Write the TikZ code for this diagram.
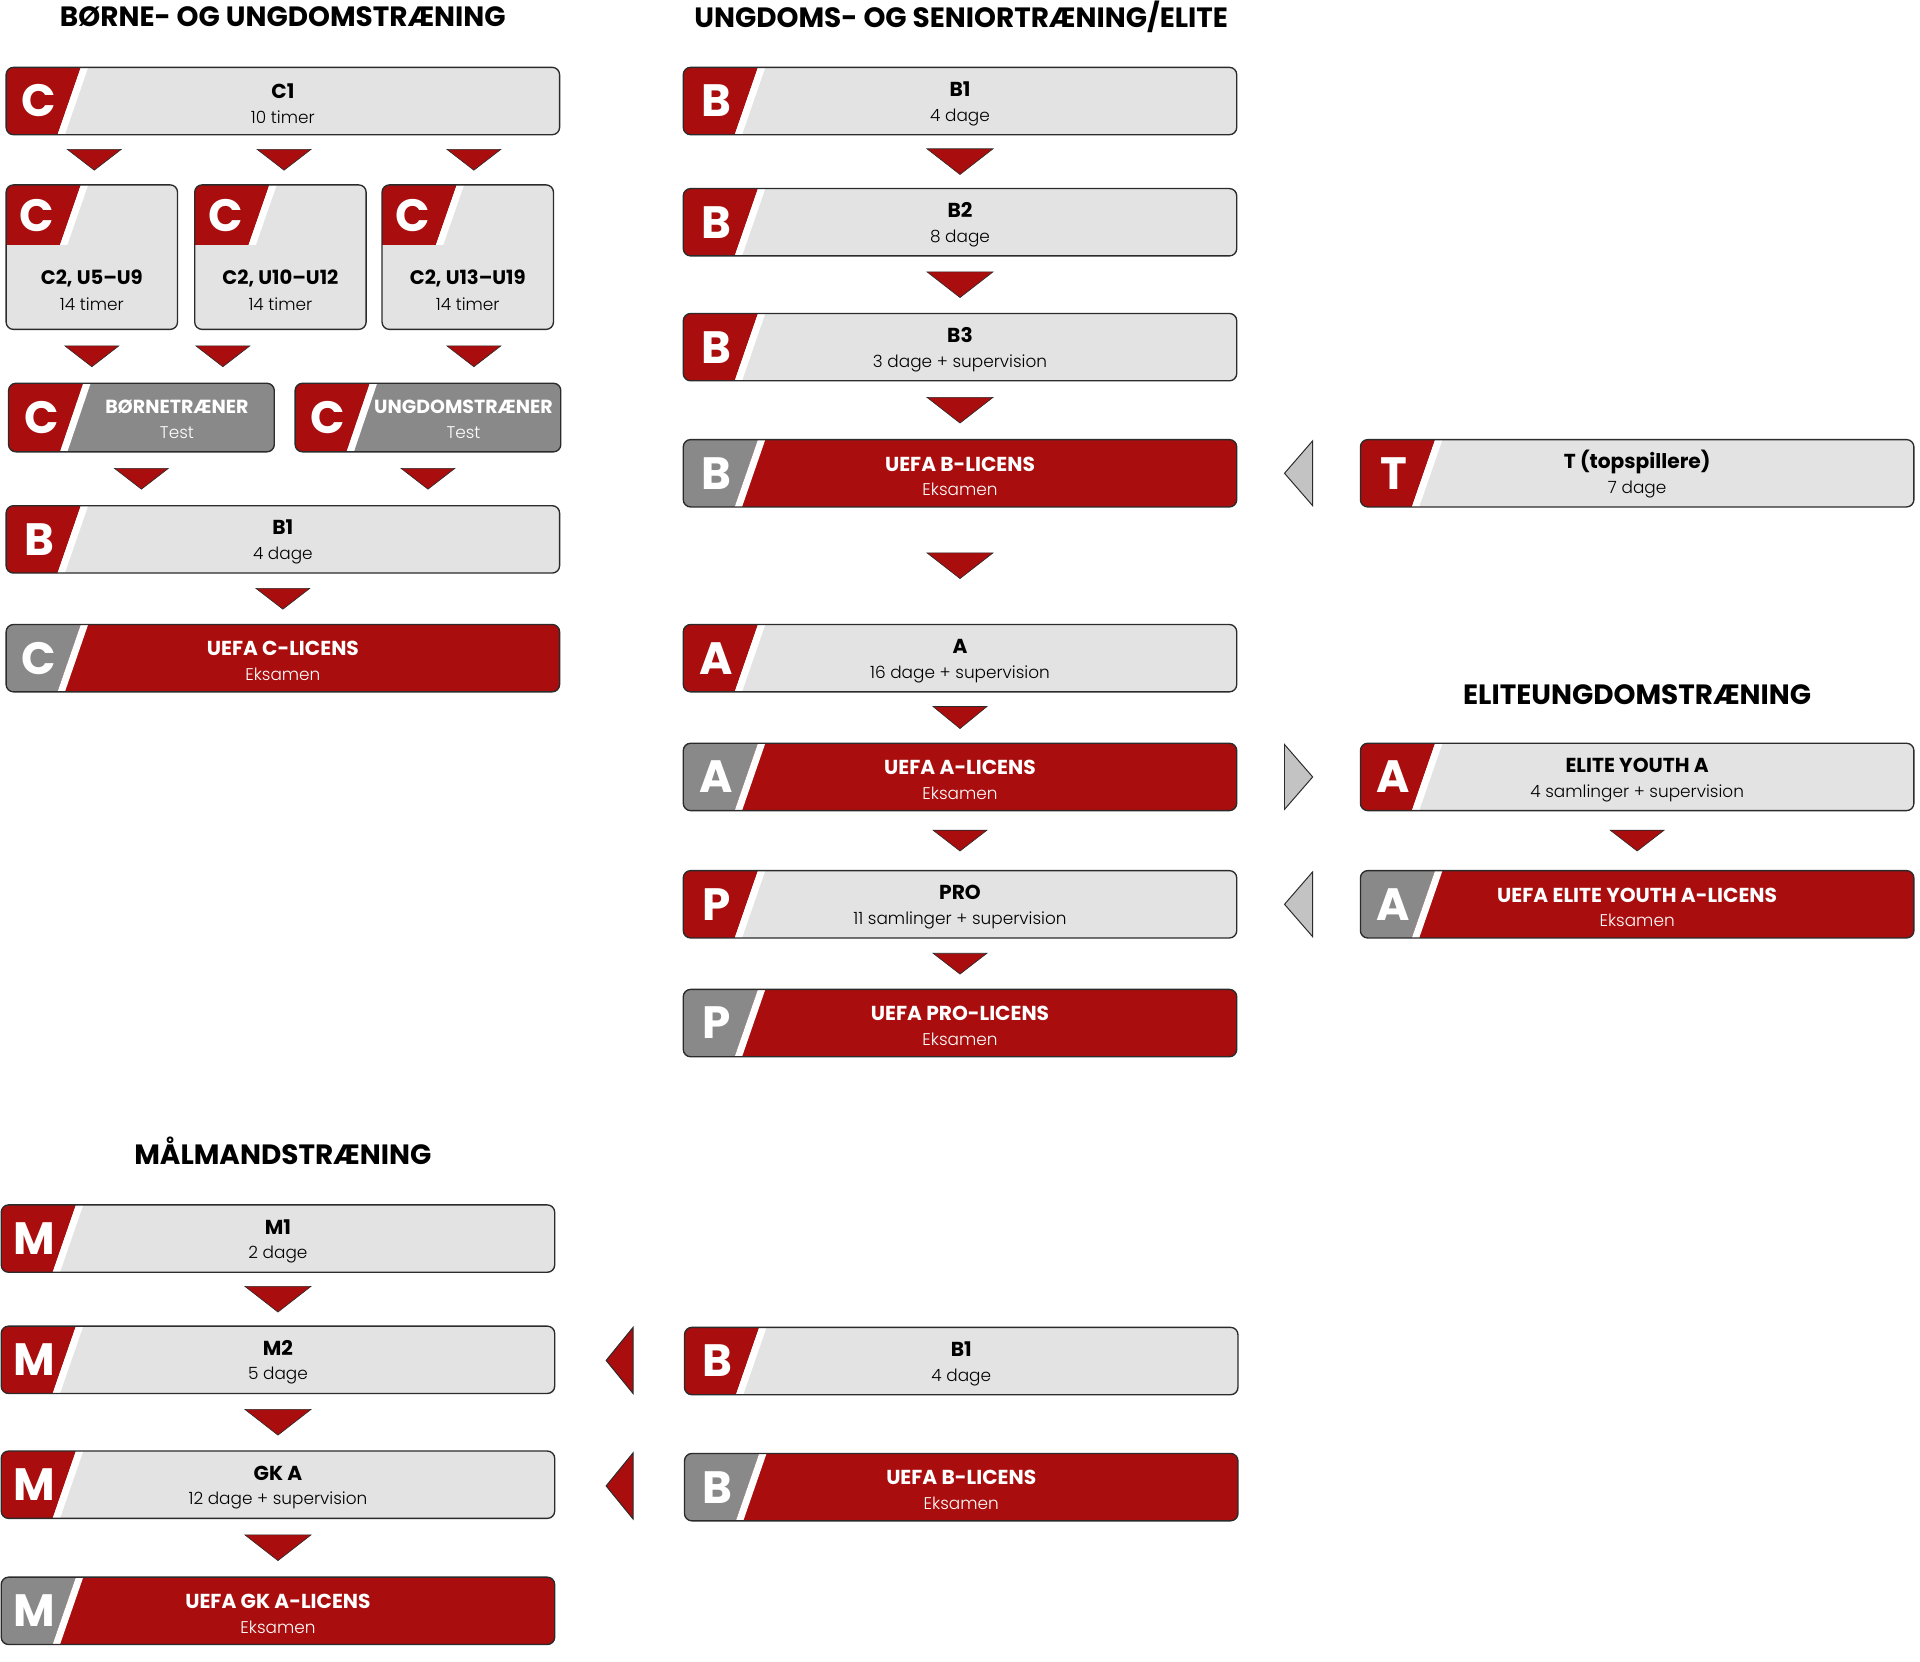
\documentclass[tikz,border=0pt]{standalone}
\usepackage{fontspec}
\setmainfont{Poppins}
\newfontfamily\lightfont{Poppins Light}
\usetikzlibrary{positioning, calc}

\definecolor{uefared}{HTML}{A90D0D}
\definecolor{boxgray}{HTML}{E3E3E3}
\definecolor{tabgray}{HTML}{898989}
\definecolor{sidegray}{HTML}{C3C3C3}
\definecolor{edge}{HTML}{2B2B2B}

\newcommand\headfont{\fontsize{22.8}{26}\selectfont\bfseries}
\newcommand\tabletterfont{\fontsize{37}{37}\selectfont\bfseries}
\newcommand\sbt{\lightfont\fontsize{13.8}{20}\selectfont}

% slanted tab on the left of a box
\newcommand\tabstripe[1]{%
	\fill[#1, sharp corners] (path picture bounding box.north west) -- ++(61pt,0pt)
		-- ([xshift=42pt]path picture bounding box.south west)
		-- (path picture bounding box.south west) -- cycle;
	\fill[white, sharp corners] ([xshift=61pt]path picture bounding box.north west) -- ++(6pt,0pt)
		-- ([xshift=48pt]path picture bounding box.south west) -- ++(-6pt,0pt) -- cycle;}
\newcommand\tabcorner[1]{%
	\fill[#1, sharp corners] (path picture bounding box.north west) -- ++(61pt,0pt)
		-- ([xshift=44pt,yshift=-49pt]path picture bounding box.north west)
		-- ([yshift=-49pt]path picture bounding box.north west) -- cycle;
	\fill[white, sharp corners] ([xshift=61pt]path picture bounding box.north west) -- ++(6pt,0pt)
		-- ([xshift=50pt,yshift=-49pt]path picture bounding box.north west) -- ++(-6pt,0pt) -- cycle;}

% triangles: position, half width, half height
\newcommand\dtri[4][flowtri]{\path[#1] #2 +(-#3,-#4) -- +(#3,-#4) -- +(0,#4) -- cycle;}
\newcommand\ltri[4][sidetri]{\path[#1] #2 +(-#3,0) -- +(#3,-#4) -- +(#3,#4) -- cycle;}
\newcommand\rtri[4][sidetri]{\path[#1] #2 +(#3,0) -- +(-#3,-#4) -- +(-#3,#4) -- cycle;}

\tikzset{
	box/.style={rectangle, rounded corners=6pt, draw=edge, line width=1.1pt,
		minimum width=452pt, minimum height=55pt, inner sep=0pt, outer sep=0pt,
		align=center, text height=36.5pt, font=\fontsize{16.5}{20}\selectfont},
	course/.style={box, fill=boxgray, text=black, path picture={\tabstripe{uefared}}},
	exam/.style={box, fill=uefared, text=white, path picture={\tabstripe{tabgray}}},
	test/.style={box, fill=tabgray, text=white, minimum width=217pt, minimum height=56pt,
		path picture={\tabstripe{uefared}}},
	tallcourse/.style={box, fill=boxgray, text=black, minimum width=140pt, minimum height=118pt,
		path picture={\tabcorner{uefared}}},
	tabletter/.style={text=white, font=\tabletterfont, inner sep=0pt},
	heading/.style={font=\headfont, inner sep=0pt},
	flowtri/.style={fill=uefared, draw=edge, line width=0.5pt},
	sidetri/.style={fill=sidegray, draw=edge, line width=0.8pt},
	redside/.style={fill=uefared, draw=edge, line width=0.8pt}
}

\begin{document}
\begin{tikzpicture}[x=1pt, y=-1pt]
	\useasboundingbox (0,0) rectangle (1568,1356.5);

	% headings
	\node [heading] (h-child) at (231,14) {BØRNE- OG UNGDOMSTRÆNING};
	\node [heading] (h-senior) at (785,14) {UNGDOMS- OG SENIORTRÆNING/ELITE};
	\node [heading] (h-elite) at (1337,567) {ELITEUNGDOMSTRÆNING};
	\node [heading] (h-keeper) at (231,940) {MÅLMANDSTRÆNING};

	% children and youth
	\node [course, anchor=north west] (c1) at (5,55) {\textbf{C1}\\{\sbt 10 timer}};
	\node [tallcourse, anchor=north west,
		label={[align=center, yshift=-27pt, font=\fontsize{16}{21}\selectfont]center:{\textbf{C2, U5–U9}\\{\sbt 14 timer}}}] (c2a) at (5,151) {};
	\node [tallcourse, right=14pt of c2a,
		label={[align=center, yshift=-27pt, font=\fontsize{16}{21}\selectfont]center:{\textbf{C2, U10–U12}\\{\sbt 14 timer}}}] (c2b) {};
	\node [tallcourse, right=13pt of c2b,
		label={[align=center, yshift=-27pt, font=\fontsize{16}{21}\selectfont]center:{\textbf{C2, U13–U19}\\{\sbt 14 timer}}}] (c2c) {};
	\node [test, anchor=north west,
		label={[align=center, xshift=29pt, yshift=-1.5pt, text=white, font=\fontsize{15.5}{20}\selectfont]center:{\textbf{BØRNETRÆNER}\\{\sbt Test}}}] (bt) at (7,313) {};
	\node [test, right=17pt of bt,
		label={[align=center, xshift=29pt, yshift=-1.5pt, text=white, font=\fontsize{15.5}{20}\selectfont]center:{\textbf{UNGDOMSTRÆNER}\\{\sbt Test}}}] (ut) {};
	\node [course, anchor=north west] (b1l) at (5,413) {\textbf{B1}\\{\sbt 4 dage}};
	\node [exam, below=42pt of b1l] (cl) {\textbf{UEFA C-LICENS}\\{\sbt Eksamen}};

	% youth and senior
	\node [course, anchor=north west] (b1) at (558,55) {\textbf{B1}\\{\sbt 4 dage}};
	\node [course, below=44pt of b1] (b2) {\textbf{B2}\\{\sbt 8 dage}};
	\node [course, below=47pt of b2] (b3) {\textbf{B3}\\{\sbt 3 dage + supervision}};
	\node [exam, below=48pt of b3] (bl) {\textbf{UEFA B-LICENS}\\{\sbt Eksamen}};
	\node [course, below=96pt of bl] (a) {\textbf{A}\\{\sbt 16 dage + supervision}};
	\node [exam, below=42pt of a] (al) {\textbf{UEFA A-LICENS}\\{\sbt Eksamen}};
	\node [course, below=49pt of al] (pro) {\textbf{PRO}\\{\sbt 11 samlinger + supervision}};
	\node [exam, below=42pt of pro] (prol) {\textbf{UEFA PRO-LICENS}\\{\sbt Eksamen}};

	% elite
	\node [course, anchor=north west] (t) at (1111,359) {\textbf{T (topspillere)}\\{\sbt 7 dage}};
	\node [course, anchor=north west] (ey) at (1111,607) {\textbf{ELITE YOUTH A}\\{\sbt 4 samlinger + supervision}};
	\node [exam, below=49pt of ey] (eyl) {\textbf{UEFA ELITE YOUTH A-LICENS}\\{\sbt Eksamen}};

	% goalkeepers
	\node [course, anchor=north west] (m1) at (1,984) {\textbf{M1}\\{\sbt 2 dage}};
	\node [course, below=44pt of m1] (m2) {\textbf{M2}\\{\sbt 5 dage}};
	\node [course, below=47pt of m2] (gk) {\textbf{GK A}\\{\sbt 12 dage + supervision}};
	\node [exam, below=48pt of gk] (gkl) {\textbf{UEFA GK A-LICENS}\\{\sbt Eksamen}};
	\node [course, anchor=north west] (b1m) at (559,1084) {\textbf{B1}\\{\sbt 4 dage}};
	\node [exam, below=48pt of b1m] (bm) {\textbf{UEFA B-LICENS}\\{\sbt Eksamen}};

	% tab letters
	\foreach \n/\l in {c1/C, bt/C, ut/C, b1l/B, cl/C, b1/B, b2/B, b3/B, bl/B, a/A, al/A,
			pro/P, prol/P, t/T, ey/A, eyl/A, m1/M, m2/M, gk/M, gkl/M, b1m/B, bm/B}
		\node [tabletter] (\n-tab) at ([xshift=27pt]\n.west) {\l};
	\foreach \n in {c2a, c2b, c2c}
		\node [tabletter] (\n-tab) at ([xshift=25pt, yshift=-25pt]\n.north west) {C};

	% flow triangles
	\foreach \n/\s in {c2a/2, c2b/3, c2c/5}
		{\dtri{($(c1.south -| \n.north)!.5!(\n.north)+(\s,0)$)}{22}{8.5}}
	\dtri{($(c2a.south)!.5!(c2a.south |- bt.north)$)}{22}{8.5}
	\dtri{($(c2b.south west)+(23,22)$)}{22}{8.5}
	\dtri{($(c2c.south)!.5!(c2c.south |- ut.north)+(5,0)$)}{22}{8.5}
	\dtri{($(bt.south)!.5!(bt.south |- b1l.north)$)}{22}{8.5}
	\dtri{($(ut.south)!.5!(ut.south |- b1l.north)$)}{22}{8.5}
	\dtri{($(b1l.south)!.5!(cl.north)$)}{22}{8.5}

	\dtri{($(b1.south)!.5!(b2.north)$)}{27}{10.5}
	\dtri{($(b2.south)!.5!(b3.north)$)}{27}{10.5}
	\dtri{($(b3.south)!.5!(bl.north)$)}{27}{10.5}
	\dtri{($(bl.south)!.5!(a.north)$)}{27}{10.5}
	\dtri{($(a.south)!.5!(al.north)$)}{22}{9}
	\dtri{($(al.south)!.5!(pro.north)$)}{22}{8.5}
	\dtri{($(pro.south)!.5!(prol.north)$)}{22}{8.5}
	\dtri{($(ey.south)!.5!(eyl.north)$)}{22}{8.5}

	\dtri{($(m1.south)!.5!(m2.north)$)}{27}{10.5}
	\dtri{($(m2.south)!.5!(gk.north)$)}{27}{10.5}
	\dtri{($(gk.south)!.5!(gkl.north)$)}{27}{10.5}

	% side triangles
	\ltri{($(bl.east)!.5!(t.west)$)}{11.5}{26.5}
	\rtri{($(al.east)!.5!(ey.west)$)}{11.5}{26.5}
	\ltri{($(pro.east)!.5!(eyl.west)$)}{11.5}{26.5}
	\ltri[redside]{($(m2.east)!.5!(b1m.west)$)}{11}{27}
	\ltri[redside]{($(gk.east)!.5!(bm.west)$)}{11}{27}
\end{tikzpicture}
\end{document}
